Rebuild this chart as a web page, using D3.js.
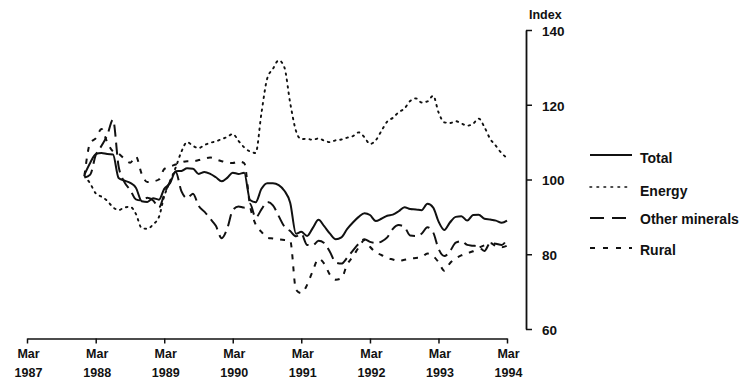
<!DOCTYPE html>
<html><head><meta charset="utf-8">
<script src="https://cdn.jsdelivr.net/npm/d3@7/dist/d3.min.js"></script>
<style>
body{margin:0;background:#fff}
text{font-family:"Liberation Sans",Arial,Helvetica,sans-serif;font-weight:bold;fill:#111}
</style>
</head><body>
<svg id="chart" width="743" height="383"></svg>
<script>
// Monthly index values, Jan 1988 .. Mar 1994
const firstMonth = { year: 1988, month: 0 };
const total = [101.3,104.5,106.8,107.1,106.8,106.7,100.4,99.7,99.1,97.8,94.2,94.0,95.0,94.6,97.5,99.0,102.2,102.3,103.0,102.9,101.5,102.0,101.5,100.6,99.5,100.5,101.8,101.5,101.8,94.5,93.9,97.5,99.0,99.0,98.5,97.0,93.8,85.5,86.0,84.9,87.0,89.2,87.5,85.5,84.0,84.5,86.8,88.5,90.0,91.0,90.5,88.9,89.5,90.3,90.6,91.5,92.6,92.1,92.0,91.8,93.5,92.5,88.8,86.5,88.5,90.0,90.2,89.0,90.5,90.6,89.5,89.3,89.0,88.4,89.0];
const energy = [101.0,98.9,96.3,95.4,94.3,92.6,91.8,92.5,92.7,90.8,87.0,86.8,88.0,90.0,95.5,99.5,103.2,107.5,110.0,109.0,108.4,109.2,109.8,110.2,110.8,111.4,112.2,110.3,108.6,107.5,107.1,117.8,127.1,129.6,131.9,130.0,120.5,113.0,110.8,110.9,110.6,111.0,110.4,110.0,110.5,110.7,111.2,111.6,112.6,111.3,109.5,110.5,113.0,115.5,116.5,118.0,119.0,121.0,121.7,120.6,120.9,122.4,118.0,115.3,115.1,115.6,115.0,114.4,114.9,116.3,114.0,110.9,109.0,107.0,105.8];
const otherMinerals = [100.5,101.3,106.5,109.0,111.8,116.0,103.5,99.3,97.2,94.7,94.4,95.1,94.4,92.5,96.0,99.5,102.0,96.8,95.0,96.2,92.9,91.4,89.5,87.6,84.3,87.1,91.8,92.8,92.5,93.5,89.8,92.0,94.0,93.1,90.2,87.4,86.2,84.8,85.5,82.5,82.4,83.6,83.0,80.6,77.8,77.5,79.1,81.0,82.8,84.0,83.3,83.0,83.4,84.5,86.8,87.8,87.3,85.0,84.9,85.5,87.2,85.8,81.5,79.5,80.8,83.1,83.5,82.5,82.3,82.0,80.9,83.0,82.8,82.5,84.0];
const rural = [101.0,109.8,111.0,113.5,110.0,107.5,106.9,105.5,104.5,106.2,101.5,99.3,99.5,100.0,102.8,103.5,104.0,104.6,104.9,104.9,105.2,105.6,105.9,105.4,104.9,104.5,104.4,104.8,104.4,93.0,88.0,86.0,84.4,84.2,84.0,83.8,83.6,70.5,69.6,71.8,75.5,78.8,77.5,74.5,73.2,73.6,77.3,79.4,81.8,83.8,82.0,80.5,79.8,79.0,78.6,78.2,78.5,78.8,79.0,79.2,80.2,79.5,77.9,75.6,77.6,78.9,79.7,80.3,80.8,81.7,82.4,83.0,82.2,81.9,82.3];

const seriesNames = ["Total", "Energy", "Other minerals", "Rural"];
const tickYears = [1987, 1988, 1989, 1990, 1991, 1992, 1993, 1994];
const tickMonthLabel = "Mar";
const yTicks = [60, 80, 100, 120, 140];
const yLabel = "Index";

const months = d3.range(total.length).map(i => new Date(firstMonth.year, firstMonth.month + i, 1));

const svg = d3.select("#chart");
const x = d3.scaleTime()
  .domain([new Date(1987, 2, 1), new Date(1994, 2, 1)])
  .range([27, 507]);
const y = d3.scaleLinear().domain([60, 140]).range([329, 30]);

const styles = [
  { dash: null, width: 2 },
  { dash: "1.6,4.8", width: 1.9, cap: "round" },
  { dash: "12,6", width: 2 },
  { dash: "5,7", width: 2 }
];
const data = [total, energy, otherMinerals, rural];

const line = d3.line().x((d, i) => x(months[i])).y(d => y(d)).curve(d3.curveMonotoneX);

data.forEach((vals, k) => {
  svg.append("path")
    .datum(vals)
    .attr("d", line)
    .attr("fill", "none")
    .attr("stroke", "#111")
    .attr("stroke-width", styles[k].width)
    .attr("stroke-linecap", styles[k].cap || "butt")
    .attr("stroke-linejoin", "round")
    .attr("stroke-dasharray", styles[k].dash);
});

// X axis
const xAxis = d3.axisBottom(x)
  .tickValues(tickYears.map(yr => new Date(yr, 2, 1)))
  .tickSize(5).tickSizeOuter(0).tickFormat("");
const gx = svg.append("g").attr("transform", "translate(0,338.5)").call(xAxis);
gx.select(".domain").attr("stroke", "#111").attr("stroke-width", 1.5);
gx.selectAll(".tick line").attr("stroke", "#111").attr("stroke-width", 1.5);
gx.selectAll(".tick").each(function(d, i) {
  const t = d3.select(this);
  t.append("text").attr("x", 1).attr("y", 19).attr("text-anchor", "middle")
    .style("font-size", "12.5px").text(tickMonthLabel);
  t.append("text").attr("x", 1).attr("y", 38).attr("text-anchor", "middle")
    .style("font-size", "12.5px").text(tickYears[i]);
});

// Y axis (right side)
const yAxis = d3.axisRight(y).tickValues(yTicks).tickSize(6).tickSizeOuter(0).tickPadding(10);
const gy = svg.append("g").attr("transform", "translate(526,0)").call(yAxis);
gy.select(".domain").attr("stroke", "#111").attr("stroke-width", 1.8);
gy.selectAll(".tick line").attr("stroke", "#111").attr("stroke-width", 1.5);
gy.selectAll(".tick text").style("font-size", "13.5px").attr("font-family", null).attr("fill", "#111").attr("dy", "0.4em");

svg.append("text").attr("x", 529).attr("y", 19).style("font-size", "12.5px").text(yLabel);

// Legend
const legendY = [155, 187, 218, 248];
const legendTextY = [158, 191, 219, 250];
const legendDash = [null, "1.6,5.4", "14,8", "5,8"];
seriesNames.forEach((name, k) => {
  svg.append("line")
    .attr("x1", 590).attr("x2", 632)
    .attr("y1", legendY[k]).attr("y2", legendY[k])
    .attr("stroke", "#111").attr("stroke-width", k === 1 ? 1.6 : 1.8)
    .attr("stroke-linecap", k === 1 ? "round" : "butt")
    .attr("stroke-dasharray", legendDash[k]);
  svg.append("text").attr("x", 640).attr("y", legendTextY[k]).attr("dy", "0.35em")
    .style("font-size", "14px").text(name);
});
</script>
</body></html>
